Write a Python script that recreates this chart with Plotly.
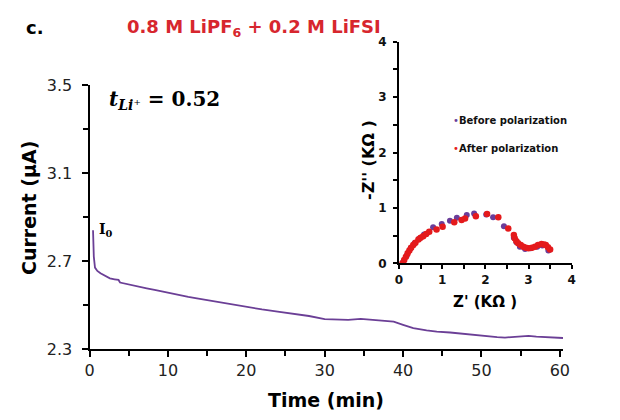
import plotly.graph_objects as go

# Main chronoamperometry curve
time_min = [0.45, 0.55, 0.7, 1.0, 1.4, 2.0, 2.6, 3.2, 3.7, 3.9, 4.5, 5.2, 6.2, 7.3, 8.3, 9.4,
            10.5, 11.5, 12.6, 13.7, 15, 16.5, 18, 20, 22, 24, 26, 28, 30, 32, 33, 34.6, 36,
            37.5, 38.8, 40, 41.3, 43, 44.3, 46, 47.3, 49, 50.7, 52, 53, 54.9, 56, 57, 58.5, 60, 60.4]
current_uA = [2.84, 2.72, 2.67, 2.655, 2.644, 2.632, 2.621, 2.617, 2.614, 2.602, 2.597, 2.59,
              2.583, 2.576, 2.569, 2.56, 2.553, 2.545, 2.537, 2.53, 2.522, 2.512, 2.503, 2.49,
              2.48, 2.47, 2.46, 2.45, 2.436, 2.434, 2.432, 2.437, 2.432, 2.43, 2.424, 2.41,
              2.395, 2.385, 2.379, 2.375, 2.37, 2.364, 2.356, 2.354, 2.352, 2.358, 2.36, 2.356,
              2.354, 2.35, 2.35]

# Inset Nyquist data (kOhm)
before_zr = [0.10, 0.18, 0.27, 0.36, 0.46, 0.58, 0.79, 0.99, 1.18, 1.34, 1.57, 1.74, 2.02,
             2.18, 2.43, 2.66, 2.72, 2.80, 2.92, 3.05, 3.20, 3.32, 3.46]
before_zi = [0.03, 0.14, 0.27, 0.36, 0.44, 0.52, 0.65, 0.71, 0.77, 0.82, 0.87, 0.90, 0.88,
             0.83, 0.67, 0.46, 0.38, 0.30, 0.26, 0.27, 0.30, 0.32, 0.23]
after_zr = [0.08, 0.12, 0.16, 0.20, 0.24, 0.28, 0.33, 0.38, 0.45, 0.50, 0.56, 0.63, 0.70,
            0.87, 1.01, 1.28, 1.45, 1.53, 1.78, 2.04, 2.30, 2.53, 2.66, 2.68, 2.72, 2.76,
            2.82, 2.88, 2.94, 3.00, 3.08, 3.15, 3.22, 3.30, 3.36, 3.40, 3.45, 3.50]
after_zi = [0.00, 0.06, 0.12, 0.18, 0.23, 0.28, 0.33, 0.37, 0.43, 0.46, 0.49, 0.53, 0.57,
            0.61, 0.66, 0.74, 0.78, 0.81, 0.85, 0.89, 0.83, 0.63, 0.51, 0.45, 0.40, 0.36,
            0.33, 0.30, 0.28, 0.27, 0.28, 0.30, 0.33, 0.35, 0.34, 0.33, 0.29, 0.25]

PURPLE = "#6a3d9a"
RED = "#e41a1c"
W, H = 620, 420

def px(x):
    return x / W

def py(y):
    return 1 - y / H

fig = go.Figure()
fig.add_trace(go.Scatter(x=time_min, y=current_uA, mode="lines",
                         line=dict(color="#6b3f96", width=1.8),
                         xaxis="x", yaxis="y", showlegend=False))
fig.add_trace(go.Scatter(x=before_zr, y=before_zi, mode="markers",
                         marker=dict(color=PURPLE, size=6),
                         xaxis="x2", yaxis="y2", showlegend=False))
fig.add_trace(go.Scatter(x=after_zr, y=after_zi, mode="markers",
                         marker=dict(color=RED, size=6.5),
                         xaxis="x2", yaxis="y2", showlegend=False))

tickfont_main = dict(family="DejaVu Sans", size=16, color="#222")
tickfont_inset = dict(family="DejaVu Sans", size=12, color="#111", weight="bold")

fig.update_layout(
    width=W, height=H,
    margin=dict(l=0, r=0, t=0, b=0, autoexpand=False),
    paper_bgcolor="white", plot_bgcolor="rgba(0,0,0,0)",
    xaxis=dict(domain=[px(89.5), px(563)], range=[0, 60.4], anchor="y",
               showgrid=False, zeroline=False, showline=True, linecolor="black", linewidth=2,
               ticks="outside", ticklen=6, tickwidth=1.5, tickcolor="black",
               tickvals=[0, 10, 20, 30, 40, 50, 60], tickfont=tickfont_main,
               ticklabelstandoff=0,
               minor=dict(dtick=5, ticks="outside", ticklen=5, tickwidth=1.5, tickcolor="black")),
    yaxis=dict(domain=[py(349), py(85)], range=[2.3, 3.5], anchor="x",
               showgrid=False, zeroline=False, showline=True, linecolor="black", linewidth=2,
               ticks="outside", ticklen=6, tickwidth=1.5, tickcolor="black",
               tickvals=[2.3, 2.7, 3.1, 3.5], ticktext=["2.3", "2.7", "3.1", "3.5"],
               tickfont=tickfont_main, ticklabelstandoff=6,
               minor=dict(dtick=0.2, tick0=2.3, ticks="outside", ticklen=5, tickwidth=1.5,
                          tickcolor="black")),
    xaxis2=dict(domain=[px(399), px(571.7)], range=[0, 4], anchor="y2",
                showgrid=False, zeroline=False, showline=True, linecolor="black", linewidth=2,
                ticks="outside", ticklen=4, tickwidth=1.5, tickcolor="black",
                tickvals=[0, 1, 2, 3, 4], tickfont=tickfont_inset,
                minor=dict(dtick=0.5, ticks="outside", ticklen=4, tickwidth=1.5, tickcolor="black")),
    yaxis2=dict(domain=[py(263.3), py(41.7)], range=[0, 4], anchor="x2",
                showgrid=False, zeroline=False, showline=True, linecolor="black", linewidth=2,
                ticks="outside", ticklen=4, tickwidth=1.5, tickcolor="black",
                tickvals=[0, 1, 2, 3, 4], tickfont=tickfont_inset, ticklabelstandoff=4,
                minor=dict(dtick=0.5, ticks="outside", ticklen=4, tickwidth=1.5, tickcolor="black")),
)

def note(text, x, y, size, family="DejaVu Sans", color="black", xanchor="center", angle=0):
    return dict(text=text, x=px(x), y=py(y), xref="paper", yref="paper",
                xanchor=xanchor, yanchor="middle", textangle=angle, showarrow=False,
                font=dict(family=family, size=size, color=color))

ann = [
    note("<b>c.</b>", 35, 28, 18),
    note("<b>0.8 M LiPF<sub>6</sub> + 0.2 M LiFSI</b>", 254, 28, 18, color="#d7262e"),
    note("<b><i>t</i></b><sub><b><i>Li</i></b>⁺</sub><b> = 0.52</b>", 107, 100, 20,
         family="DejaVu Serif", xanchor="left"),
    note("<b>I<sub>0</sub></b>", 97, 230, 14, family="DejaVu Serif", xanchor="left"),
    note("<b>Current (µA)</b>", 29, 208, 19, angle=-90),
    note("<b>Time (min)</b>", 326, 400, 19),
    note("<b>-Z'' (KΩ )</b>", 368, 160, 16, angle=-90),
    note("<b>Z' (KΩ )</b>", 485, 302, 15),
    note(f"<span style='color:{PURPLE}'>•</span><b>Before polarization</b>", 451, 120, 10,
         color="#111", xanchor="left"),
    note(f"<span style='color:{RED}'>•</span><b>After polarization</b>", 451, 148, 10,
         color="#111", xanchor="left"),
]
fig.update_layout(annotations=ann)

fig.write_html("out.html",
               post_script="document.body.style.margin='0px';document.body.style.overflow='hidden';")
